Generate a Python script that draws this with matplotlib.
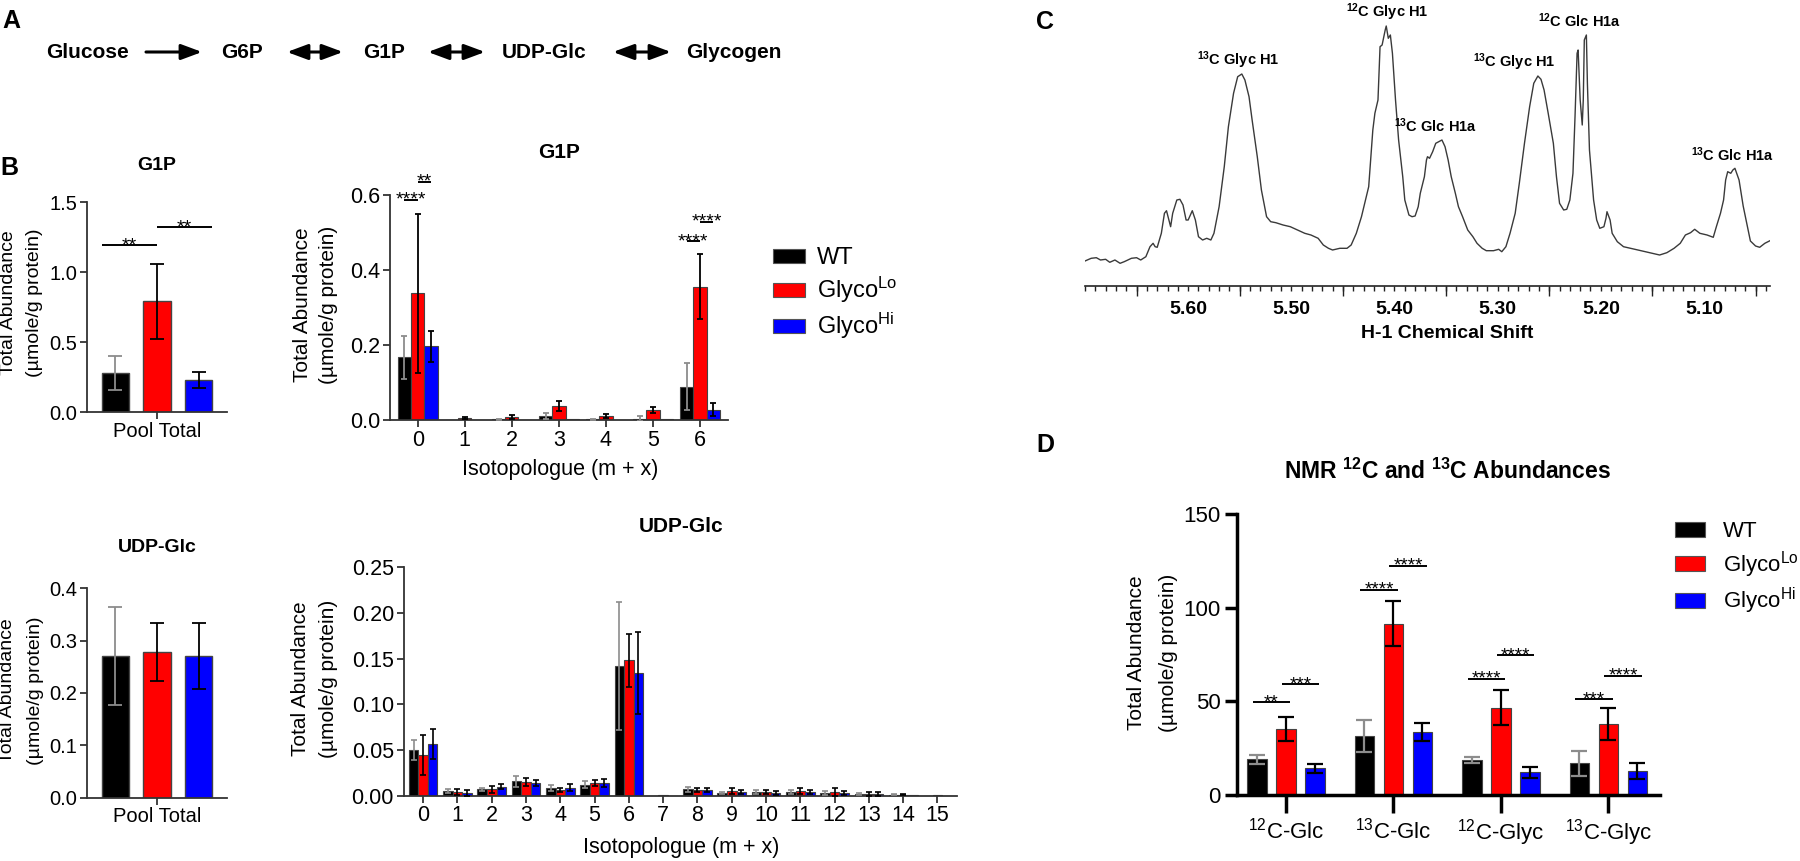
import numpy as np
import matplotlib
matplotlib.use('Agg')
import matplotlib.pyplot as plt
from matplotlib.patches import Patch, FancyArrowPatch
from matplotlib.ticker import MultipleLocator, FormatStrFormatter

plt.rcParams['font.family'] = ['Liberation Sans', 'DejaVu Sans']
plt.rcParams['mathtext.default'] = 'regular'

# ---------------------------------------------------------------- data
groups = ['WT', 'Glyco$^{Lo}$', 'Glyco$^{Hi}$']
bar_colors = ['#000000', '#ff0000', '#0000ff']
err_colors = ['#8c8c8c', '#000000', '#000000']

pathway = ['Glucose', 'G6P', 'G1P', 'UDP-Glc', 'Glycogen']
pathway_arrows = ['-|>', '<|-|>', '<|-|>', '<|-|>']

# G1P pool total
g1p_pool_mean = [0.28, 0.79, 0.23]
g1p_pool_sd = [0.12, 0.27, 0.057]
g1p_pool_sig = [((0, 1), 1.19, '**'), ((1, 2), 1.32, '**')]

# G1P isotopologues m+0 .. m+6
g1p_iso_x = [0, 1, 2, 3, 4, 5, 6]
g1p_iso_wt = [0.167, 0.000, 0.002, 0.011, 0.002, 0.004, 0.089]
g1p_iso_wt_sd = [0.057, 0.000, 0.002, 0.009, 0.002, 0.007, 0.063]
g1p_iso_lo = [0.338, 0.005, 0.008, 0.038, 0.011, 0.027, 0.355]
g1p_iso_lo_sd = [0.212, 0.003, 0.005, 0.013, 0.005, 0.009, 0.087]
g1p_iso_hi = [0.196, 0.000, 0.001, 0.002, 0.001, 0.002, 0.028]
g1p_iso_hi_sd = [0.041, 0.000, 0.000, 0.000, 0.000, 0.000, 0.018]
g1p_iso_sig = [(0, (0, 1), 0.587, '****'), (0, (1, 2), 0.635, '**'),
               (6, (0, 1), 0.476, '****'), (6, (1, 2), 0.529, '****')]

# UDP-Glc pool total
udp_pool_mean = [0.271, 0.278, 0.271]
udp_pool_sd = [0.093, 0.055, 0.063]

# UDP-Glc isotopologues m+0 .. m+15
udp_iso_x = list(range(16))
udp_iso_wt = [0.050, 0.0055, 0.007, 0.016, 0.0084, 0.012, 0.142, 0.0, 0.007, 0.003, 0.004, 0.004, 0.003, 0.002, 0.001, 0.0]
udp_iso_wt_sd = [0.011, 0.002, 0.0015, 0.006, 0.003, 0.004, 0.070, 0.0, 0.003, 0.001, 0.002, 0.002, 0.002, 0.001, 0.0005, 0.0]
udp_iso_lo = [0.0445, 0.004, 0.007, 0.015, 0.006, 0.014, 0.1485, 0.0005, 0.006, 0.005, 0.004, 0.005, 0.004, 0.002, 0.001, 0.0005]
udp_iso_lo_sd = [0.022, 0.003, 0.004, 0.004, 0.002, 0.003, 0.029, 0.0, 0.002, 0.003, 0.002, 0.003, 0.004, 0.002, 0.0005, 0.0]
udp_iso_hi = [0.0566, 0.003, 0.010, 0.014, 0.0088, 0.014, 0.1347, 0.0, 0.006, 0.004, 0.003, 0.004, 0.003, 0.002, 0.0005, 0.0]
udp_iso_hi_sd = [0.016, 0.003, 0.003, 0.003, 0.004, 0.004, 0.045, 0.0, 0.002, 0.002, 0.002, 0.002, 0.002, 0.002, 0.0, 0.0]

# NMR abundances
nmr_cats = ['$^{12}$C-Glc', '$^{13}$C-Glc', '$^{12}$C-Glyc', '$^{13}$C-Glyc']
nmr_wt = [19.2, 31.5, 18.7, 16.9]
nmr_wt_sd = [2.4, 8.8, 1.6, 6.8]
nmr_lo = [35.2, 91.5, 46.6, 37.7]
nmr_lo_sd = [6.4, 12.0, 9.3, 8.5]
nmr_hi = [14.2, 33.6, 12.1, 13.0]
nmr_hi_sd = [2.2, 4.8, 3.1, 4.3]
nmr_sig = [(0, (0, 1), 49.5, '**'), (0, (1, 2), 59.1, '***'),
           (1, (0, 1), 109.4, '****'), (1, (1, 2), 122.2, '****'),
           (2, (0, 1), 62.1, '****'), (2, (1, 2), 74.6, '****'),
           (3, (0, 1), 51.1, '***'), (3, (1, 2), 63.7, '****')]

# 1H NMR spectrum trace (ppm, intensity in arbitrary units)
spec_ppm = [5.700, 5.694, 5.689, 5.685, 5.680, 5.676, 5.671, 5.666, 5.662, 5.655,
            5.650, 5.646, 5.641, 5.637, 5.634, 5.632, 5.630, 5.626, 5.623, 5.621,
            5.617, 5.615, 5.611, 5.608, 5.605, 5.602, 5.600, 5.596, 5.593, 5.590,
            5.586, 5.582, 5.578, 5.575, 5.570, 5.565, 5.561, 5.556, 5.552, 5.548,
            5.545, 5.541, 5.538, 5.533, 5.529, 5.524, 5.520, 5.515, 5.508, 5.501,
            5.494, 5.487, 5.481, 5.474, 5.469, 5.464, 5.460, 5.453, 5.446, 5.442,
            5.437, 5.432, 5.425, 5.421, 5.419, 5.416, 5.414, 5.412, 5.409, 5.408,
            5.406, 5.404, 5.402, 5.399, 5.396, 5.392, 5.390, 5.386, 5.383, 5.380,
            5.377, 5.375, 5.371, 5.369, 5.368, 5.366, 5.363, 5.360, 5.357, 5.354,
            5.351, 5.348, 5.345, 5.341, 5.338, 5.334, 5.329, 5.324, 5.320, 5.315,
            5.311, 5.304, 5.299, 5.296, 5.292, 5.288, 5.283, 5.279, 5.274, 5.269,
            5.265, 5.261, 5.258, 5.255, 5.251, 5.246, 5.243, 5.240, 5.236, 5.233,
            5.230, 5.227, 5.225, 5.223, 5.222, 5.220, 5.218, 5.217, 5.216, 5.214,
            5.213, 5.211, 5.207, 5.204, 5.201, 5.197, 5.195, 5.194, 5.191, 5.189,
            5.184, 5.178, 5.171, 5.164, 5.157, 5.150, 5.143, 5.136, 5.129, 5.123,
            5.118, 5.113, 5.109, 5.104, 5.097, 5.091, 5.088, 5.084, 5.081, 5.079,
            5.077, 5.074, 5.072, 5.070, 5.066, 5.062, 5.058, 5.055, 5.050, 5.046,
            5.041, 5.036]
spec_int = [25.0, 27.7, 28.3, 26.0, 26.7, 23.7, 26.0, 22.7, 24.3, 27.7,
            28.3, 26.0, 29.3, 39.3, 42.7, 39.3, 38.7, 52.7, 72.7, 75.3,
            59.3, 72.7, 86.0, 86.7, 81.0, 66.0, 66.0, 75.3, 66.0, 49.3,
            46.0, 47.7, 46.0, 52.7, 79.3, 119.3, 159.3, 192.7, 209.3, 212.0,
            206.0, 189.3, 166.0, 129.3, 96.0, 69.3, 64.3, 63.3, 61.0, 59.3,
            56.0, 52.7, 51.0, 47.7, 41.0, 37.7, 36.0, 37.7, 37.7, 41.0,
            52.7, 69.3, 99.3, 156.0, 172.7, 186.0, 239.3, 241.0, 256.0, 260.0,
            247.7, 251.0, 232.7, 186.0, 146.0, 109.3, 86.0, 71.0, 69.3, 70.0,
            79.3, 92.7, 109.3, 126.0, 129.3, 127.7, 134.3, 142.7, 144.3, 146.0,
            139.3, 126.0, 109.3, 92.7, 79.3, 69.3, 56.0, 49.3, 42.7, 37.7,
            35.3, 35.3, 36.7, 34.3, 39.3, 52.7, 72.7, 102.7, 142.7, 179.3,
            202.7, 210.0, 206.7, 196.0, 172.7, 142.7, 109.3, 82.7, 76.0, 76.7,
            86.0, 112.7, 169.3, 232.7, 236.0, 186.0, 161.0, 186.0, 246.0, 251.0,
            202.7, 136.0, 86.0, 66.0, 57.7, 59.3, 67.7, 74.3, 66.0, 52.7,
            44.3, 39.3, 37.7, 36.0, 34.3, 32.7, 31.0, 33.3, 37.7, 42.7,
            51.0, 53.3, 56.7, 52.7, 51.0, 48.7, 59.3, 72.7, 86.0, 106.0,
            114.3, 112.7, 116.0, 117.7, 106.0, 80.0, 60.0, 45.0, 40.0, 38.7,
            42.7, 45.3]
spec_ticks = [5.60, 5.50, 5.40, 5.30, 5.20, 5.10]
spec_ticklabels = ['5.60', '5.50', '5.40', '5.30', '5.20', '5.10']
spec_long_ticks = [5.65, 5.55, 5.45, 5.35, 5.25, 5.15, 5.05]
peak_labels = ['$^{13}$C Glyc H1', '$^{12}$C Glyc H1', '$^{13}$C Glc H1a',
               '$^{13}$C Glyc H1', '$^{12}$C Glc H1a', '$^{13}$C Glc H1a']
peak_ppm = [5.551, 5.406, 5.354, 5.261, 5.215, 5.070]

# ---------------------------------------------------------------- figure
W, H = 1800, 861
fig = plt.figure(figsize=(W / 100, H / 100), dpi=100)
AX_COL = '#333333'


def px_axes(x0, y0, x1, y1):
    return fig.add_axes([x0 / W, 1 - y1 / H, (x1 - x0) / W, (y1 - y0) / H])


def style_axes(ax, lw=1.3, color=AX_COL):
    for s in ['top', 'right']:
        ax.spines[s].set_visible(False)
    for s in ['left', 'bottom']:
        ax.spines[s].set_linewidth(lw)
        ax.spines[s].set_color(color)
    ax.set_facecolor('none')


def grouped_bars(ax, x, series, errs, width, offsets, capsize, elw=1.3, edge_lw=0.8):
    for k in range(3):
        xs = np.asarray(x, dtype=float) + offsets[k]
        vals = np.asarray(series[k], dtype=float)
        e = np.asarray(errs[k], dtype=float)
        ax.bar(xs, vals, width=width, color=bar_colors[k], edgecolor='#444444',
               linewidth=edge_lw, zorder=2)
        m = e > 0
        ax.errorbar(xs[m], vals[m], yerr=e[m], fmt='none', ecolor=err_colors[k],
                    elinewidth=elw, capsize=capsize, capthick=elw, zorder=3)


def sig(ax, x1, x2, y, label, fs=14, lw=1.4):
    ax.plot([x1, x2], [y, y], color='k', lw=lw, clip_on=False,
            solid_capstyle='butt', zorder=4)
    ax.annotate(label, xy=((x1 + x2) / 2, y), xytext=(0, -3.5),
                textcoords='offset points', ha='center', va='baseline',
                fontsize=fs, annotation_clip=False)


def pool_panel(ax, means, sds, ylim, yticks, fmt):
    style_axes(ax)
    px = np.array([-1.0, 0.0, 1.0])
    grouped_bars(ax, [0], [[means[0]], [means[1]], [means[2]]],
                 [[sds[0]], [sds[1]], [sds[2]]], 0.66, px, capsize=4.8, elw=1.3,
                 edge_lw=1.0)
    ax.set_xlim(-1.68, 1.68)
    ax.set_ylim(*ylim)
    ax.set_yticks(yticks)
    ax.yaxis.set_major_formatter(FormatStrFormatter(fmt))
    ax.set_xticks([0], ['Pool Total'])
    ax.tick_params(length=5, width=1.3, color=AX_COL, labelsize=14.5, pad=2)
    return px


# --- B: G1P pool
ax1 = px_axes(87, 202, 227, 412)
px = pool_panel(ax1, g1p_pool_mean, g1p_pool_sd, (0, 1.5), [0, 0.5, 1.0, 1.5], '%.1f')
for (i, j), y, lab in g1p_pool_sig:
    x1 = px[i] - 0.33 if i == 0 else px[i]
    x2 = px[j] + 0.33 if j == 2 else px[j]
    sig(ax1, x1, x2, y, lab, fs=14)

# --- B: G1P isotopologues
ax2 = px_axes(390, 195, 727.7, 420)
style_axes(ax2)
off_g = [-0.283, 0.0, 0.283]
grouped_bars(ax2, g1p_iso_x, [g1p_iso_wt, g1p_iso_lo, g1p_iso_hi],
             [g1p_iso_wt_sd, g1p_iso_lo_sd, g1p_iso_hi_sd], 0.283, off_g, capsize=2.5)
ax2.set_xlim(-0.59, 6.59)
ax2.set_ylim(0, 0.6)
ax2.set_yticks([0, 0.2, 0.4, 0.6])
ax2.yaxis.set_major_formatter(FormatStrFormatter('%.1f'))
ax2.set_xticks(g1p_iso_x)
ax2.tick_params(length=5, width=1.3, color=AX_COL, labelsize=15.5, pad=2)
for g, (i, j), y, lab in g1p_iso_sig:
    sig(ax2, g + off_g[i], g + off_g[j], y, lab, fs=14)

handles = [Patch(facecolor=c, edgecolor='#555555', linewidth=0.8) for c in bar_colors]
ax2.legend(handles, groups, loc='upper left', bbox_to_anchor=(773 / W, 1 - 247 / H),
           bbox_transform=fig.transFigure, frameon=False, fontsize=17,
           handlelength=1.36, handleheight=0.55, handletextpad=0.5,
           labelspacing=0.25, borderpad=0, borderaxespad=0)

# --- B: UDP-Glc pool
ax3 = px_axes(87, 588.3, 227, 797.7)
pool_panel(ax3, udp_pool_mean, udp_pool_sd, (0, 0.4), [0, 0.1, 0.2, 0.3, 0.4], '%.1f')

# --- B: UDP-Glc isotopologues
ax4 = px_axes(403.6, 567.3, 956.7, 795.7)
style_axes(ax4)
off_u = [-0.279, 0.0, 0.279]
grouped_bars(ax4, udp_iso_x, [udp_iso_wt, udp_iso_lo, udp_iso_hi],
             [udp_iso_wt_sd, udp_iso_lo_sd, udp_iso_hi_sd], 0.279, off_u, capsize=2.2,
             elw=1.2)
ax4.set_xlim(-0.57, 15.56)
ax4.set_ylim(0, 0.25)
ax4.set_yticks([0, 0.05, 0.10, 0.15, 0.20, 0.25])
ax4.yaxis.set_major_formatter(FormatStrFormatter('%.2f'))
ax4.set_xticks(udp_iso_x)
ax4.tick_params(length=5, width=1.3, color=AX_COL, labelsize=15.5, pad=2)

# --- C: NMR spectrum
axC = px_axes(1085, 0, 1770, 286)
axC.plot(spec_ppm, spec_int, color='#3a3a3a', lw=1.0)
axC.set_xlim(5.70, 5.036)
axC.set_ylim(0, 286)
for s in ['top', 'right', 'left']:
    axC.spines[s].set_visible(False)
axC.spines['bottom'].set_linewidth(1.2)
axC.spines['bottom'].set_color('#222222')
axC.set_facecolor('none')
axC.set_yticks([])
axC.set_xticks(spec_ticks, spec_ticklabels, fontweight='bold', fontsize=14)
axC.xaxis.set_minor_locator(MultipleLocator(0.01))
axC.tick_params(axis='x', which='both', length=3.5, width=1, color='#222222', pad=7)
sec = axC.secondary_xaxis('bottom')
sec.set_xticks(spec_long_ticks)
sec.tick_params(length=7, width=1, color='#222222', labelbottom=False)
sec.spines['bottom'].set_visible(False)
label_dx = [0.0, 0.001, 0.006, 0.0225, 0.006, 0.002]
ppm_arr = np.array(spec_ppm)
int_arr = np.array(spec_int)
for lab, p, dx in zip(peak_labels, peak_ppm, label_dx):
    m = np.abs(ppm_arr - p) < 0.008
    top = int_arr[m].max()
    axC.annotate(lab, xy=(p + dx, top), xytext=(0, 10), textcoords='offset points',
                 ha='center', va='center', fontsize=10.5, fontweight='bold',
                 annotation_clip=False)

# --- D: NMR abundances
axD = px_axes(1237, 514, 1660, 795)
style_axes(axD, lw=2.5, color='#000000')
off_d = [-0.27, 0.0, 0.27]
grouped_bars(axD, range(4), [nmr_wt, nmr_lo, nmr_hi], [nmr_wt_sd, nmr_lo_sd, nmr_hi_sd],
             0.18, off_d, capsize=6, elw=1.6)
axD.set_xlim(-0.456, 3.48)
axD.set_ylim(0, 150)
axD.set_yticks([0, 50, 100, 150])
axD.set_xticks(range(4), nmr_cats)
axD.tick_params(axis='x', length=13, width=2.5, labelsize=16, pad=3)
axD.tick_params(axis='y', length=9, width=2.5, labelsize=16, pad=3)
for g, (i, j), y, lab in nmr_sig:
    sig(axD, g + off_d[i] - 0.04, g + off_d[j] + 0.04, y, lab, fs=13.5)
handlesD = [Patch(facecolor=c, edgecolor='#555555', linewidth=0.8) for c in bar_colors]
axD.legend(handlesD, groups, loc='upper left', bbox_to_anchor=(1675 / W, 1 - 521 / H),
           bbox_transform=fig.transFigure, frameon=False, fontsize=16,
           handlelength=1.35, handleheight=0.68, handletextpad=0.8,
           labelspacing=0.3, borderpad=0, borderaxespad=0)

# ---------------------------------------------------------------- overlay text (pixel coords)
ov = fig.add_axes([0, 0, 1, 1])
ov.set_xlim(0, W)
ov.set_ylim(H, 0)
ov.axis('off')

# panel letters
for lab, (x, y) in zip(['A', 'B', 'C', 'D'], [(11, 21), (9, 168), (1045, 22), (1045, 445)]):
    ov.text(x, y, lab, fontsize=18, fontweight='bold', ha='center', va='center')

# pathway (A)
word_x = [46, 221, 363, 502, 686]
arrow_x = [(146, 202), (287, 343), (428, 485), (613, 671)]
for wx, w in zip(word_x, pathway):
    ov.text(wx, 53, w, fontsize=15, fontweight='bold', ha='left', va='center')
for (a, b), st in zip(arrow_x, pathway_arrows):
    ov.add_patch(FancyArrowPatch((a, 52), (b, 52), arrowstyle=st + ',head_length=0.7,head_width=0.26',
                                 mutation_scale=18, lw=2.2, color='k', shrinkA=0, shrinkB=0))

# titles
ov.text(157, 165, 'G1P', fontsize=14, fontweight='bold', ha='center', va='center')
ov.text(559, 153, 'G1P', fontsize=15, fontweight='bold', ha='center', va='center')
ov.text(157, 548, 'UDP-Glc', fontsize=14, fontweight='bold', ha='center', va='center')
ov.text(681, 527, 'UDP-Glc', fontsize=15, fontweight='bold', ha='center', va='center')
ov.text(1447, 471, 'NMR $^{12}$C and $^{13}$C Abundances', fontsize=16.5,
        fontweight='bold', ha='center', va='center')

# y labels (two lines each)
ylab = [((9, 35), 303, 14), ((8, 36), 691, 14), ((302, 329), 305, 15),
        ((300, 328), 679, 15), ((1136, 1169), 653, 15)]
for (xa, xb), yc, fs in ylab:
    ov.text(xa, yc, 'Total Abundance', rotation=90, fontsize=fs, ha='center', va='center')
    ov.text(xb, yc, '(µmole/g protein)', rotation=90, fontsize=fs, ha='center', va='center')

# x labels
ov.text(560, 470, 'Isotopologue (m + x)', fontsize=15.5, ha='center', va='center')
ov.text(681, 848, 'Isotopologue (m + x)', fontsize=15.5, ha='center', va='center')
ov.text(1447, 333, 'H-1 Chemical Shift', fontsize=14, fontweight='bold', ha='center', va='center')

fig.savefig('out.png', dpi=100)
